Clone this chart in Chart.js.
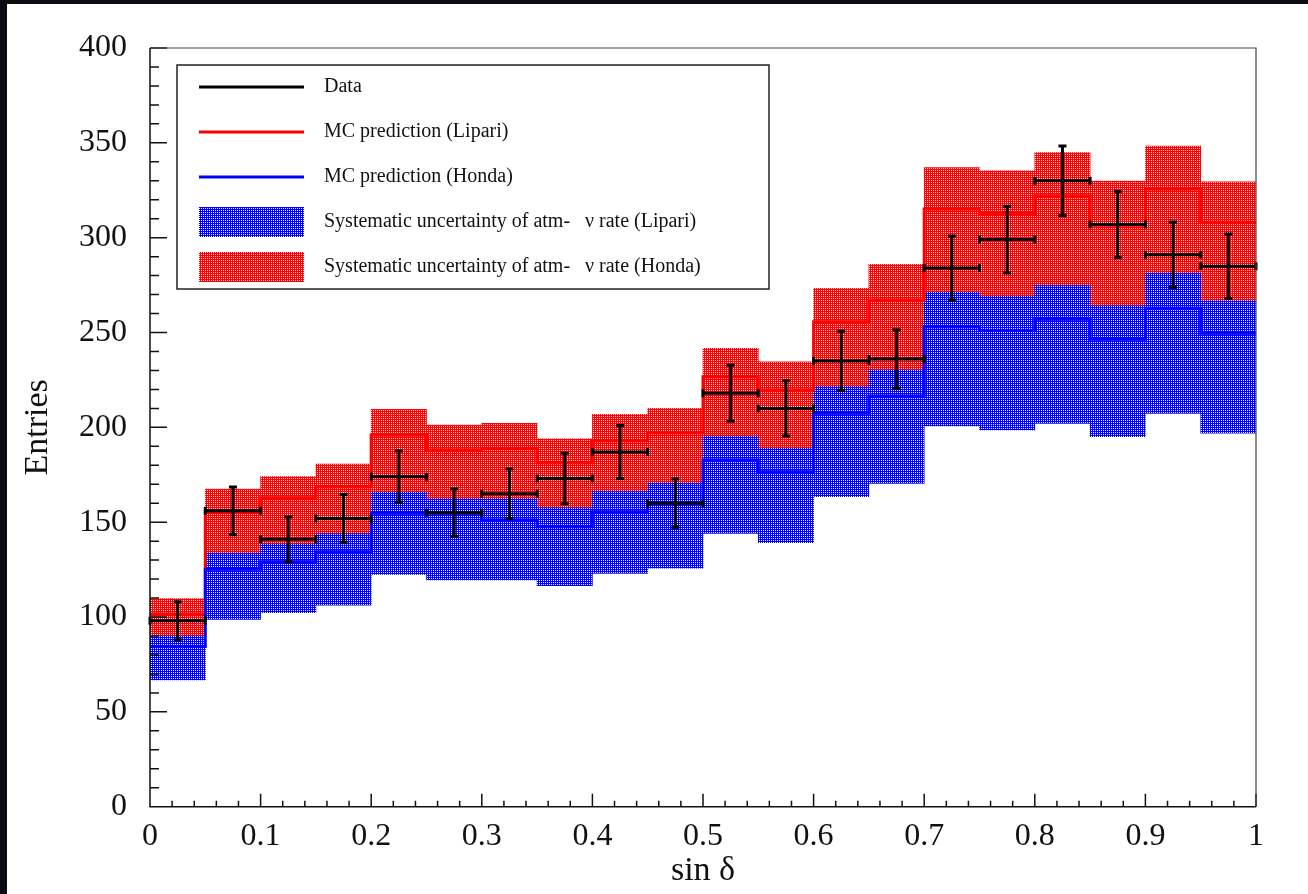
<!DOCTYPE html>
<html>
<head>
<meta charset="utf-8">
<script src="https://cdn.jsdelivr.net/npm/chart.js@4.4.1/dist/chart.umd.min.js"></script>
<style>
  html, body { margin: 0; padding: 0; background: #fff; overflow: hidden; }
  .edge { position: absolute; background: #0b0b14; }
  #edgeLeft { left: 0; top: 0; width: 7px; height: 100%; }
  #edgeTop { left: 0; top: 0; width: 100%; height: 4px; }
  #chart { position: absolute; left: 7px; top: 4px; }
</style>
</head>
<body>
<div class="edge" id="edgeLeft"></div>
<div class="edge" id="edgeTop"></div>
<canvas id="chart" width="1301" height="890"></canvas>
<script>
// bins of sin(delta), width 0.05
const binCenters = [0.025, 0.075, 0.125, 0.175, 0.225, 0.275, 0.325, 0.375, 0.425, 0.475,
                    0.525, 0.575, 0.625, 0.675, 0.725, 0.775, 0.825, 0.875, 0.925, 0.975];
const halfBin = 0.025;

const dataCounts = [98, 156, 141, 152, 174, 155, 165, 173, 187, 160,
                    218, 210, 235, 236, 284, 299, 330, 307, 291, 285];
const dataErrors = [10, 12.6, 11.8, 12.6, 13.5, 12.5, 13, 13.3, 14, 12.8,
                    14.8, 14.6, 15.6, 15.4, 16.9, 17.6, 18.3, 17.4, 17.3, 17];

const mcLipari = [101.6, 155.5, 162.9, 168.7, 196, 188.1, 189, 181.4, 193, 197.2,
                  226.7, 219.7, 255.7, 267.2, 315.1, 312.8, 322.1, 306.5, 325.7, 308.1];
const mcHonda = [84.4, 125.2, 129.2, 134.4, 154.7, 154.7, 151.2, 147.6, 155.5, 160,
                 182.8, 176.6, 207.4, 216.5, 253.1, 251, 257, 246.4, 262.8, 249.6];

// visible extents of the hatched bands
const redBandTop = [109.7, 167.5, 174, 180.7, 209.5, 201.2, 202.1, 193.9, 206.9, 210,
                    241.7, 234.6, 273.3, 286, 336.9, 335.2, 344.8, 329.9, 348.3, 329.5];
const blueBandTop = [90, 133.6, 138.5, 143.8, 165.8, 162.2, 162.2, 157.6, 166.1, 170.5,
                     195.1, 189, 221.4, 230.2, 271.2, 268.9, 274.7, 264.1, 281.2, 266.6];
const blueBandBottom = [66.8, 98.8, 102.3, 106.3, 122.5, 119.5, 119.5, 116.5, 123, 125.7,
                        144.1, 139.2, 163.4, 170.5, 200.7, 198.6, 202.1, 195.1, 207.4, 196.9];

const legendItems = [
  { text: 'Data', kind: 'line', color: '#000' },
  { text: 'MC prediction (Lipari)', kind: 'line', color: '#ff0000' },
  { text: 'MC prediction (Honda)', kind: 'line', color: '#0000ff' },
  { text: 'Systematic uncertainty of atm-   \u03bd rate (Lipari)', kind: 'box', color: '#0000ff' },
  { text: 'Systematic uncertainty of atm-   \u03bd rate (Honda)', kind: 'box', color: '#ff0000' }
];

const SERIF = "'Liberation Serif', 'Times New Roman', serif";

function dotPattern(color) {
  const tile = document.createElement('canvas');
  tile.width = 2; tile.height = 2;
  const t = tile.getContext('2d');
  t.fillStyle = color;
  t.fillRect(0, 0, 2, 2);
  t.fillStyle = '#ffffff';
  t.fillRect(0, 0, 1, 1);
  return document.createElement('canvas').getContext('2d').createPattern(tile, 'repeat');
}
const redFill = dotPattern('#ff0000');
const blueFill = dotPattern('#0000ff');

const stepPoints = vals => binCenters.map((c, i) => ({ x: c - halfBin, y: vals[i] }))
  .concat([{ x: 1, y: vals[vals.length - 1] }]);

// error crosses for the data points
const errorBars = {
  id: 'errorBars',
  afterDatasetsDraw(chart) {
    const { ctx, scales: { x, y } } = chart;
    const meta = chart.getDatasetMeta(4);
    ctx.save();
    ctx.strokeStyle = '#000';
    ctx.lineWidth = 3;
    ctx.beginPath();
    meta.data.forEach((pt, i) => {
      const x0 = x.getPixelForValue(binCenters[i] - halfBin);
      const x1 = x.getPixelForValue(binCenters[i] + halfBin);
      const yHi = y.getPixelForValue(dataCounts[i] + dataErrors[i]);
      const yLo = y.getPixelForValue(dataCounts[i] - dataErrors[i]);
      ctx.moveTo(x0, pt.y); ctx.lineTo(x1, pt.y);
      ctx.moveTo(x0, pt.y - 4); ctx.lineTo(x0, pt.y + 4);
      ctx.moveTo(x1, pt.y - 4); ctx.lineTo(x1, pt.y + 4);
      ctx.moveTo(pt.x, yHi); ctx.lineTo(pt.x, yLo);
      ctx.moveTo(pt.x - 4, yHi); ctx.lineTo(pt.x + 4, yHi);
      ctx.moveTo(pt.x - 4, yLo); ctx.lineTo(pt.x + 4, yLo);
    });
    ctx.stroke();
    ctx.restore();
  }
};

// frame plus inward ticks, then the boxed legend
const frameAndLegend = {
  id: 'frameAndLegend',
  afterDraw(chart) {
    const { ctx, chartArea: a, scales: { x, y } } = chart;
    ctx.save();
    ctx.strokeStyle = '#111';
    ctx.lineWidth = 1.5;
    ctx.beginPath();
    for (let v = 0; v <= 400; v += 10) {
      const py = y.getPixelForValue(v);
      ctx.moveTo(a.left, py);
      ctx.lineTo(a.left + (v % 50 === 0 ? 17 : 9), py);
    }
    for (let k = 0; k <= 50; k++) {
      const px = x.getPixelForValue(k * 0.02);
      ctx.moveTo(px, a.bottom);
      ctx.lineTo(px, a.bottom - (k % 5 === 0 ? 13 : 6));
    }
    ctx.moveTo(a.left, a.top); ctx.lineTo(a.left, a.bottom); ctx.lineTo(a.right, a.bottom);
    ctx.stroke();
    ctx.strokeStyle = '#444';
    ctx.lineWidth = 1.2;
    ctx.beginPath();
    ctx.moveTo(a.left, a.top); ctx.lineTo(a.right, a.top); ctx.lineTo(a.right, a.bottom);
    ctx.stroke();

    // legend box
    const bx = 170, by = 61, bw = 592, bh = 224;
    ctx.fillStyle = '#fff';
    ctx.fillRect(bx, by, bw, bh);
    ctx.strokeStyle = '#222';
    ctx.lineWidth = 1.5;
    ctx.strokeRect(bx, by, bw, bh);
    ctx.font = '20px ' + SERIF;
    ctx.textBaseline = 'middle';
    ctx.textAlign = 'left';
    legendItems.forEach((it, i) => {
      const cy = 83 + i * 45;
      if (it.kind === 'line') {
        ctx.strokeStyle = it.color;
        ctx.lineWidth = 3;
        ctx.beginPath();
        ctx.moveTo(192, cy); ctx.lineTo(297, cy);
        ctx.stroke();
      } else {
        ctx.fillStyle = it.color === '#ff0000' ? redFill : blueFill;
        ctx.fillRect(192, cy - 15, 105, 30);
      }
      ctx.fillStyle = '#111';
      ctx.fillText(it.text, 317, cy);
    });
    ctx.restore();
  }
};

new Chart(document.getElementById('chart'), {
  type: 'bar',
  data: {
    datasets: [
      {
        label: 'Systematic uncertainty (Honda)',
        data: binCenters.map((c, i) => ({ x: c, y: [blueBandTop[i], redBandTop[i]] })),
        backgroundColor: redFill,
        borderWidth: 0,
        grouped: false,
        barPercentage: 1,
        categoryPercentage: 1,
        order: 5
      },
      {
        label: 'Systematic uncertainty (Lipari)',
        data: binCenters.map((c, i) => ({ x: c, y: [blueBandBottom[i], blueBandTop[i]] })),
        backgroundColor: blueFill,
        borderWidth: 0,
        grouped: false,
        barPercentage: 1,
        categoryPercentage: 1,
        order: 4
      },
      {
        type: 'line',
        label: 'MC prediction (Lipari)',
        data: stepPoints(mcLipari),
        borderColor: '#ff0000',
        borderWidth: 3,
        stepped: true,
        pointRadius: 0,
        fill: false,
        order: 3
      },
      {
        type: 'line',
        label: 'MC prediction (Honda)',
        data: stepPoints(mcHonda),
        borderColor: '#0000ff',
        borderWidth: 3,
        stepped: true,
        pointRadius: 0,
        fill: false,
        order: 2
      },
      {
        type: 'line',
        label: 'Data',
        data: binCenters.map((c, i) => ({ x: c, y: dataCounts[i] })),
        showLine: false,
        pointRadius: 0,
        order: 1
      }
    ]
  },
  options: {
    responsive: false,
    animation: false,
    devicePixelRatio: 1,
    layout: { padding: { top: 44, right: 52, left: 0, bottom: 0 } },
    plugins: { legend: { display: false }, tooltip: { enabled: false } },
    scales: {
      x: {
        type: 'linear',
        min: 0,
        max: 1,
        offset: false,
        grid: { display: false, drawTicks: false, offset: false },
        border: { display: false },
        ticks: {
          stepSize: 0.1,
          padding: 11,
          maxRotation: 0,
          autoSkip: false,
          color: '#111',
          font: { family: SERIF, size: 32 },
          callback: v => String(Number(v.toFixed(1)))
        },
        title: {
          display: true,
          text: 'sin \u03b4',
          color: '#111',
          font: { family: SERIF, size: 34 },
          padding: { top: 0, bottom: 3 }
        },
        afterFit: s => { s.height = 87.3; }
      },
      y: {
        min: 0,
        max: 400,
        grid: { display: false, drawTicks: false },
        border: { display: false },
        ticks: {
          stepSize: 50,
          padding: 23,
          color: '#111',
          font: { family: SERIF, size: 32 }
        },
        title: {
          display: true,
          text: 'Entries',
          color: '#111',
          font: { family: SERIF, size: 34 },
          padding: { top: 11, bottom: 0 }
        },
        afterFit: s => { s.width = 143; }
      }
    }
  },
  plugins: [errorBars, frameAndLegend]
});
</script>
</body>
</html>
